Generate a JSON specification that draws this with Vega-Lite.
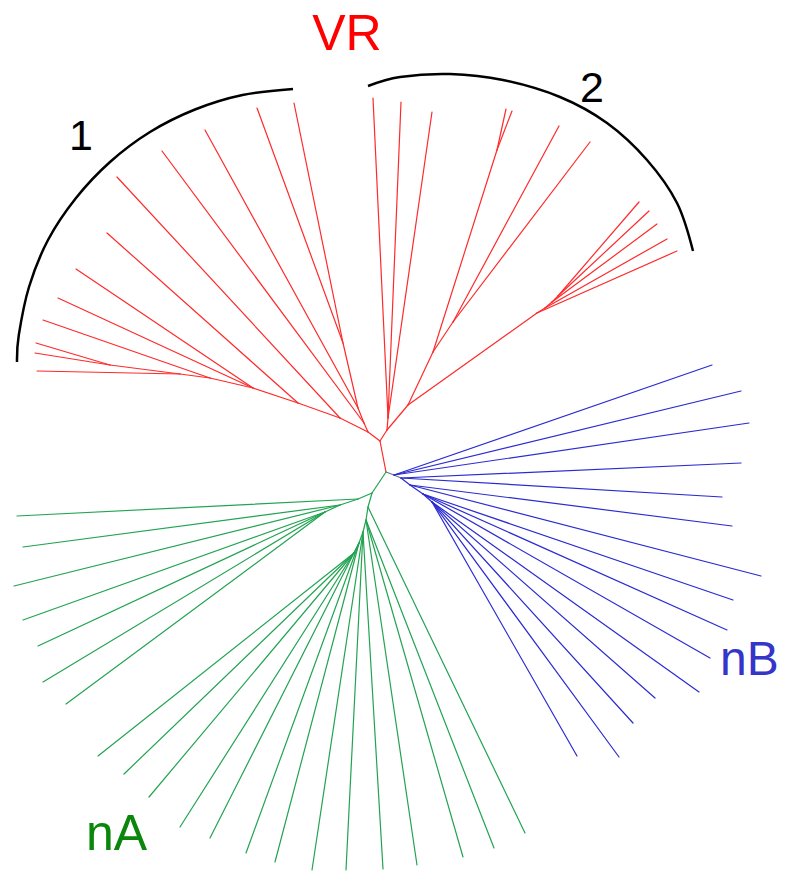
{
  "$schema": "https://vega.github.io/schema/vega-lite/v6.json",
  "width": 786,
  "height": 871,
  "autosize": {"type": "fit", "contains": "padding"},
  "padding": 0,
  "background": "white",
  "config": {"view": {"stroke": null}},
  "layer": [
    {
      "data": {"values": [
        {"c": "VR", "x": 386, "y": 472, "x2": 380, "y2": 441},
        {"c": "VR", "x": 380, "y": 441, "x2": 368, "y2": 432},
        {"c": "VR", "x": 380, "y": 441, "x2": 387, "y2": 430},
        {"c": "VR", "x": 368, "y": 432, "x2": 364, "y2": 423},
        {"c": "VR", "x": 364, "y": 423, "x2": 358, "y2": 408},
        {"c": "VR", "x": 364, "y": 423, "x2": 162, "y2": 151},
        {"c": "VR", "x": 358, "y": 408, "x2": 343, "y2": 343},
        {"c": "VR", "x": 343, "y": 343, "x2": 294, "y2": 103},
        {"c": "VR", "x": 343, "y": 343, "x2": 257, "y2": 108},
        {"c": "VR", "x": 358, "y": 408, "x2": 205, "y2": 130},
        {"c": "VR", "x": 368, "y": 432, "x2": 340, "y2": 418},
        {"c": "VR", "x": 340, "y": 418, "x2": 117, "y2": 177},
        {"c": "VR", "x": 340, "y": 418, "x2": 298, "y2": 403},
        {"c": "VR", "x": 298, "y": 403, "x2": 107, "y2": 233},
        {"c": "VR", "x": 298, "y": 403, "x2": 253, "y2": 388},
        {"c": "VR", "x": 253, "y": 388, "x2": 76, "y2": 269},
        {"c": "VR", "x": 253, "y": 388, "x2": 58, "y2": 298},
        {"c": "VR", "x": 253, "y": 388, "x2": 210, "y2": 378},
        {"c": "VR", "x": 210, "y": 378, "x2": 43, "y2": 320},
        {"c": "VR", "x": 210, "y": 378, "x2": 180, "y2": 374},
        {"c": "VR", "x": 180, "y": 374, "x2": 37, "y2": 371},
        {"c": "VR", "x": 180, "y": 374, "x2": 110, "y2": 365},
        {"c": "VR", "x": 110, "y": 365, "x2": 36, "y2": 343},
        {"c": "VR", "x": 110, "y": 365, "x2": 35, "y2": 353},
        {"c": "VR", "x": 387, "y": 430, "x2": 388, "y2": 418},
        {"c": "VR", "x": 388, "y": 418, "x2": 373, "y2": 98},
        {"c": "VR", "x": 388, "y": 418, "x2": 401, "y2": 102},
        {"c": "VR", "x": 388, "y": 418, "x2": 432, "y2": 112},
        {"c": "VR", "x": 387, "y": 430, "x2": 408, "y2": 405},
        {"c": "VR", "x": 408, "y": 405, "x2": 433, "y2": 352},
        {"c": "VR", "x": 433, "y": 352, "x2": 497, "y2": 150},
        {"c": "VR", "x": 497, "y": 150, "x2": 506, "y2": 109},
        {"c": "VR", "x": 497, "y": 150, "x2": 512, "y2": 111},
        {"c": "VR", "x": 433, "y": 352, "x2": 453, "y2": 322},
        {"c": "VR", "x": 453, "y": 322, "x2": 559, "y2": 126},
        {"c": "VR", "x": 453, "y": 322, "x2": 590, "y2": 142},
        {"c": "VR", "x": 408, "y": 405, "x2": 537, "y2": 313},
        {"c": "VR", "x": 537, "y": 313, "x2": 677, "y2": 251},
        {"c": "VR", "x": 537, "y": 313, "x2": 545, "y2": 308},
        {"c": "VR", "x": 545, "y": 308, "x2": 667, "y2": 239},
        {"c": "VR", "x": 545, "y": 308, "x2": 552, "y2": 302},
        {"c": "VR", "x": 552, "y": 302, "x2": 657, "y2": 224},
        {"c": "VR", "x": 552, "y": 302, "x2": 558, "y2": 296},
        {"c": "VR", "x": 558, "y": 296, "x2": 649, "y2": 211},
        {"c": "VR", "x": 558, "y": 296, "x2": 639, "y2": 202},
        {"c": "root", "x": 386, "y": 472, "x2": 394, "y2": 475},
        {"c": "root", "x": 394, "y": 475, "x2": 401, "y2": 478},
        {"c": "nB", "x": 401, "y": 478, "x2": 410, "y2": 485},
        {"c": "nB", "x": 394, "y": 475, "x2": 712, "y2": 365},
        {"c": "nB", "x": 394, "y": 475, "x2": 741, "y2": 391},
        {"c": "nB", "x": 394, "y": 475, "x2": 749, "y2": 423},
        {"c": "nB", "x": 401, "y": 478, "x2": 741, "y2": 463},
        {"c": "nB", "x": 401, "y": 478, "x2": 722, "y2": 497},
        {"c": "nB", "x": 410, "y": 485, "x2": 732, "y2": 526},
        {"c": "nB", "x": 410, "y": 485, "x2": 761, "y2": 576},
        {"c": "nB", "x": 410, "y": 485, "x2": 423, "y2": 494},
        {"c": "nB", "x": 423, "y": 494, "x2": 733, "y2": 600},
        {"c": "nB", "x": 423, "y": 494, "x2": 727, "y2": 630},
        {"c": "nB", "x": 423, "y": 494, "x2": 710, "y2": 658},
        {"c": "nB", "x": 423, "y": 494, "x2": 432, "y2": 502},
        {"c": "nB", "x": 432, "y": 502, "x2": 699, "y2": 692},
        {"c": "nB", "x": 432, "y": 502, "x2": 655, "y2": 698},
        {"c": "nB", "x": 432, "y": 502, "x2": 633, "y2": 723},
        {"c": "nB", "x": 432, "y": 502, "x2": 619, "y2": 757},
        {"c": "nB", "x": 432, "y": 502, "x2": 577, "y2": 756},
        {"c": "nA", "x": 386, "y": 472, "x2": 372, "y2": 493},
        {"c": "nA", "x": 372, "y": 493, "x2": 358, "y2": 499},
        {"c": "nA", "x": 358, "y": 499, "x2": 17, "y2": 516},
        {"c": "nA", "x": 358, "y": 499, "x2": 340, "y2": 505},
        {"c": "nA", "x": 340, "y": 505, "x2": 23, "y2": 547},
        {"c": "nA", "x": 340, "y": 505, "x2": 14, "y2": 586},
        {"c": "nA", "x": 340, "y": 505, "x2": 325, "y2": 512},
        {"c": "nA", "x": 325, "y": 512, "x2": 23, "y2": 620},
        {"c": "nA", "x": 325, "y": 512, "x2": 38, "y2": 646},
        {"c": "nA", "x": 325, "y": 512, "x2": 43, "y2": 682},
        {"c": "nA", "x": 325, "y": 512, "x2": 66, "y2": 704},
        {"c": "nA", "x": 372, "y": 493, "x2": 368, "y2": 507},
        {"c": "nA", "x": 368, "y": 507, "x2": 525, "y2": 833},
        {"c": "nA", "x": 368, "y": 507, "x2": 366, "y2": 520},
        {"c": "nA", "x": 366, "y": 520, "x2": 494, "y2": 848},
        {"c": "nA", "x": 366, "y": 520, "x2": 463, "y2": 857},
        {"c": "nA", "x": 366, "y": 520, "x2": 417, "y2": 865},
        {"c": "nA", "x": 366, "y": 520, "x2": 363, "y2": 532},
        {"c": "nA", "x": 363, "y": 532, "x2": 383, "y2": 869},
        {"c": "nA", "x": 363, "y": 532, "x2": 346, "y2": 870},
        {"c": "nA", "x": 363, "y": 532, "x2": 312, "y2": 870},
        {"c": "nA", "x": 363, "y": 532, "x2": 359, "y2": 543},
        {"c": "nA", "x": 359, "y": 543, "x2": 275, "y2": 862},
        {"c": "nA", "x": 359, "y": 543, "x2": 246, "y2": 853},
        {"c": "nA", "x": 359, "y": 543, "x2": 210, "y2": 838},
        {"c": "nA", "x": 359, "y": 543, "x2": 354, "y2": 553},
        {"c": "nA", "x": 354, "y": 553, "x2": 180, "y2": 827},
        {"c": "nA", "x": 354, "y": 553, "x2": 149, "y2": 797},
        {"c": "nA", "x": 354, "y": 553, "x2": 124, "y2": 774},
        {"c": "nA", "x": 354, "y": 553, "x2": 98, "y2": 756}
      ]},
      "mark": {"type": "rule", "strokeWidth": 1.2, "strokeCap": "round"},
      "encoding": {
        "x": {"field": "x", "type": "quantitative", "scale": {"domain": [0, 786], "nice": false, "zero": false}, "axis": null},
        "y": {"field": "y", "type": "quantitative", "scale": {"domain": [0, 871], "nice": false, "zero": false, "reverse": true}, "axis": null},
        "x2": {"field": "x2"},
        "y2": {"field": "y2"},
        "color": {"field": "c", "type": "nominal", "scale": {"domain": ["VR", "nA", "nB", "root"], "range": ["#ff2a2a", "#22a352", "#2b2bd2", "#5f7585"]}, "legend": null}
      }
    },
    {
      "data": {"values": [
        {"arc": "1", "i": 0, "x": 17, "y": 362},
        {"arc": "1", "i": 1, "x": 18.8, "y": 335},
        {"arc": "1", "i": 2, "x": 29, "y": 287},
        {"arc": "1", "i": 3, "x": 48, "y": 240},
        {"arc": "1", "i": 4, "x": 76, "y": 198},
        {"arc": "1", "i": 5, "x": 110, "y": 162},
        {"arc": "1", "i": 6, "x": 150, "y": 132},
        {"arc": "1", "i": 7, "x": 195, "y": 109.5},
        {"arc": "1", "i": 8, "x": 242.5, "y": 95},
        {"arc": "1", "i": 9, "x": 293, "y": 89},
        {"arc": "2", "i": 0, "x": 368, "y": 86},
        {"arc": "2", "i": 1, "x": 400, "y": 77},
        {"arc": "2", "i": 2, "x": 450, "y": 74},
        {"arc": "2", "i": 3, "x": 503, "y": 80},
        {"arc": "2", "i": 4, "x": 560, "y": 97},
        {"arc": "2", "i": 5, "x": 607, "y": 123},
        {"arc": "2", "i": 6, "x": 647, "y": 160},
        {"arc": "2", "i": 7, "x": 677, "y": 203},
        {"arc": "2", "i": 8, "x": 693, "y": 251}
      ]},
      "mark": {"type": "line", "color": "black", "strokeWidth": 2.5, "interpolate": "cardinal"},
      "encoding": {
        "x": {"field": "x", "type": "quantitative", "scale": {"domain": [0, 786], "nice": false, "zero": false}, "axis": null},
        "y": {"field": "y", "type": "quantitative", "scale": {"domain": [0, 871], "nice": false, "zero": false, "reverse": true}, "axis": null},
        "detail": {"field": "arc"},
        "order": {"field": "i", "type": "quantitative"}
      }
    },
    {
      "data": {"values": [
        {"label": "1", "x": 81, "y": 150},
        {"label": "2", "x": 592, "y": 102}
      ]},
      "mark": {"type": "text", "font": "Liberation Sans", "fontSize": 43, "color": "black", "align": "center", "baseline": "alphabetic"},
      "encoding": {
        "x": {"field": "x", "type": "quantitative", "scale": {"domain": [0, 786], "nice": false, "zero": false}, "axis": null},
        "y": {"field": "y", "type": "quantitative", "scale": {"domain": [0, 871], "nice": false, "zero": false, "reverse": true}, "axis": null},
        "text": {"field": "label"}
      }
    },
    {
      "data": {"values": [{"label": "VR", "x": 347, "y": 50}]},
      "mark": {"type": "text", "font": "Liberation Sans", "fontSize": 50, "color": "#ff0000", "align": "center", "baseline": "alphabetic"},
      "encoding": {
        "x": {"field": "x", "type": "quantitative", "scale": {"domain": [0, 786], "nice": false, "zero": false}, "axis": null},
        "y": {"field": "y", "type": "quantitative", "scale": {"domain": [0, 871], "nice": false, "zero": false, "reverse": true}, "axis": null},
        "text": {"field": "label"}
      }
    },
    {
      "data": {"values": [{"label": "nA", "x": 86, "y": 850}]},
      "mark": {"type": "text", "font": "Liberation Sans", "fontSize": 50, "color": "#0a870a", "align": "left", "baseline": "alphabetic"},
      "encoding": {
        "x": {"field": "x", "type": "quantitative", "scale": {"domain": [0, 786], "nice": false, "zero": false}, "axis": null},
        "y": {"field": "y", "type": "quantitative", "scale": {"domain": [0, 871], "nice": false, "zero": false, "reverse": true}, "axis": null},
        "text": {"field": "label"}
      }
    },
    {
      "data": {"values": [{"label": "nB", "x": 720, "y": 675}]},
      "mark": {"type": "text", "font": "Liberation Sans", "fontSize": 48, "color": "#3535c8", "align": "left", "baseline": "alphabetic"},
      "encoding": {
        "x": {"field": "x", "type": "quantitative", "scale": {"domain": [0, 786], "nice": false, "zero": false}, "axis": null},
        "y": {"field": "y", "type": "quantitative", "scale": {"domain": [0, 871], "nice": false, "zero": false, "reverse": true}, "axis": null},
        "text": {"field": "label"}
      }
    }
  ]
}
